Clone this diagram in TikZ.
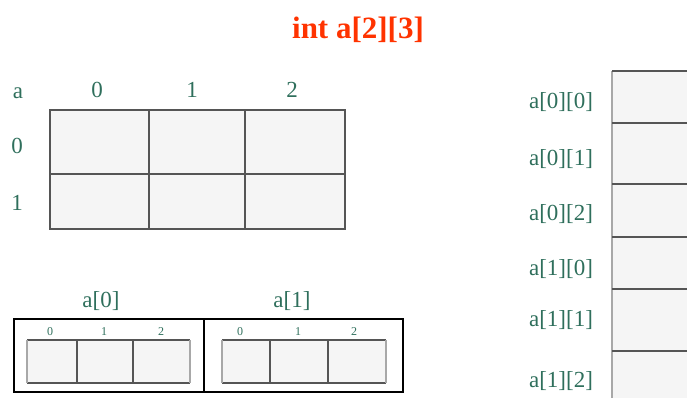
\documentclass[tikz,border=0pt]{standalone}
\usepackage{fontspec}
\setmainfont{Liberation Serif}
\definecolor{lbl}{HTML}{2F6F5C}
\definecolor{ttl}{HTML}{FF3300}
\definecolor{cellfill}{HTML}{F5F5F5}
\definecolor{gridline}{HTML}{555555}
\definecolor{edgegray}{HTML}{A8A8A8}
\tikzset{
  lab/.style={text=lbl, font=\fontsize{23}{23}\selectfont, inner sep=0pt},
  smalllab/.style={text=lbl, font=\fontsize{12}{12}\selectfont, inner sep=0pt},
  gridlines/.style={draw=gridline, line width=1.6pt},
  outerbox/.style={draw=black, line width=2pt},
}
\begin{document}
\begin{tikzpicture}[x=1pt,y=-1pt]
\useasboundingbox (0,0) rectangle (687,398);
% title
\node[text=ttl, font=\bfseries\fontsize{31}{31}\selectfont, inner sep=0pt] (title) at (358,30) {int a[2][3]};
% top grid
\fill[cellfill] (50,110) rectangle (345,229);
\draw[gridlines] (50,110) rectangle (345,229);
\draw[gridlines] (50,174) -- (345,174);
\draw[gridlines] (149,110) -- (149,229);
\draw[gridlines] (245,110) -- (245,229);
\node[lab] (la) at (18,93) {a};
\node[lab] (c0) at (97,90) {0};
\node[lab] (c1) at (192,90) {1};
\node[lab] (c2) at (292,90) {2};
\node[lab] (r0) at (17,146) {0};
\node[lab] (r1) at (17,203) {1};
% bottom boxes
\node[lab] (sa0) at (101,301) {a[0]};
\node[lab] (sa1) at (292,301) {a[1]};
\draw[outerbox] (14,319) rectangle (403,392);
\draw[outerbox] (204,319) -- (204,392);
\foreach \xa/\xb/\xc/\xd in {27/77/133/190, 222/270/328/386}{
  \fill[cellfill] (\xa,340) rectangle (\xd,383);
  \draw[gridline, line width=1.6pt] (\xa,340) -- (\xd,340) (\xa,383) -- (\xd,383);
  \draw[edgegray, line width=2pt] (\xa,340) -- (\xa,383) (\xd,340) -- (\xd,383);
  \draw[gridline, line width=1.6pt] (\xb,340) -- (\xb,383) (\xc,340) -- (\xc,383);
}
\foreach \x/\t [count=\i] in {50/0,104/1,161/2,240/0,298/1,354/2}{
  \node[smalllab] (d\i) at (\x,332) {\t};
}
% right column
\fill[cellfill] (612,71) rectangle (687,398);
\draw[edgegray, line width=2.5pt] (612,71) -- (612,398);
\foreach \y in {71,123,184,237,289,351}{
  \draw[gridline, line width=1.6pt] (612,\y) -- (687,\y);
}
\node[lab] (m00) at (561,102) {a[0][0]};
\node[lab] (m01) at (561,159) {a[0][1]};
\node[lab] (m02) at (561,214) {a[0][2]};
\node[lab] (m10) at (561,269) {a[1][0]};
\node[lab] (m11) at (561,320) {a[1][1]};
\node[lab] (m12) at (561,381) {a[1][2]};
\end{tikzpicture}
\end{document}
